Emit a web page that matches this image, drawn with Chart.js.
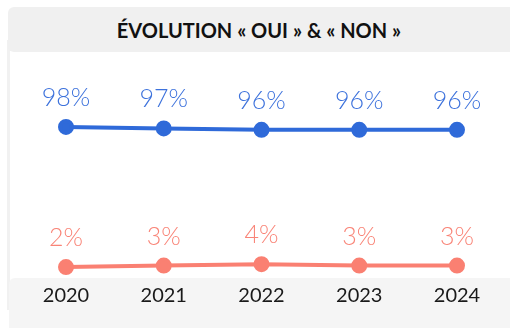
<!DOCTYPE html>
<html lang="fr">
<head>
<meta charset="utf-8">
<title>Évolution « OUI » & « NON »</title>
<script src="https://cdn.jsdelivr.net/npm/chart.js@4/dist/chart.umd.min.js"></script>
<style>
    body { margin: 0; background: #fff; width: 510px; height: 328px; overflow: hidden; position: relative; font-family: "Lato", "Open Sans", sans-serif; }
    .band { position: absolute; left: 8px; top: 7px; width: 502px; height: 45px; background: #f0f0f0; border-radius: 6px 0 0 6px; display: flex; align-items: center; justify-content: center; font-weight: bold; font-size: 20px; color: #111; }
    .side { position: absolute; left: 7px; top: 40px; width: 3px; height: 270px; background: #f1f1f1; }
    .foot { position: absolute; left: 9px; top: 278px; width: 501px; height: 50px; background: #f5f5f5; border-top-left-radius: 6px; }
    #evolution-chart { position: absolute; left: 0; top: 0; }
</style>
</head>
<body>
<div class="side"></div>
<div class="band">ÉVOLUTION « OUI » &amp; « NON »</div>
<div class="foot"></div>
<canvas id="evolution-chart" width="510" height="328"></canvas>
<script>
// years on the x axis
const years = ["2020", "2021", "2022", "2023", "2024"];
// share of answers, in percent
const ouiValues = [98, 97, 96, 96, 96];
const nonValues = [2, 3, 4, 3, 3];

const blue = "#2f6ad9";
const salmon = "#fa8072";

// writes each point's value just above it
const valueLabels = {
    id: "valueLabels",
    afterDatasetsDraw(chart) {
        const ctx = chart.ctx;
        ctx.save();
        ctx.font = "300 25px Lato, 'Open Sans', sans-serif";
        ctx.textAlign = "center";
        ctx.textBaseline = "alphabetic";
        chart.data.datasets.forEach((dataset, i) => {
            ctx.fillStyle = dataset.labelColor;
            chart.getDatasetMeta(i).data.forEach((point, j) => {
                ctx.fillText(dataset.data[j] + "%", point.x, point.y - 21);
            });
        });
        ctx.restore();
    }
};

let ctx = document.getElementById("evolution-chart").getContext("2d");

new Chart(ctx, {
    type: "line",
    data: {
        labels: years,
        datasets: [
            {
                label: "OUI",
                data: ouiValues,
                borderColor: blue,
                backgroundColor: blue,
                labelColor: "#3d72dc",
                borderWidth: 4,
                pointRadius: 6,
                pointHoverRadius: 6,
                tension: 0,
                clip: false,
            },
            {
                label: "NON",
                data: nonValues,
                borderColor: salmon,
                backgroundColor: salmon,
                labelColor: "#f98477",
                borderWidth: 4,
                pointRadius: 6,
                pointHoverRadius: 6,
                tension: 0,
                clip: false,
            },
        ],
    },
    options: {
        responsive: false,
        animation: false,
        layout: {
            padding: { top: 124, left: 66, right: 53, bottom: 14 },
        },
        plugins: {
            legend: { display: false },
            tooltip: { enabled: false },
        },
        scales: {
            x: {
                offset: false,
                grid: { display: false },
                border: { display: false },
                ticks: {
                    padding: 6,
                    color: "#1a1a1a",
                    font: { family: "Lato, 'Open Sans', sans-serif", size: 20 },
                },
            },
            y: {
                display: false,
                min: 0,
                max: 100,
            },
        },
    },
    plugins: [valueLabels],
});
</script>
</body>
</html>
